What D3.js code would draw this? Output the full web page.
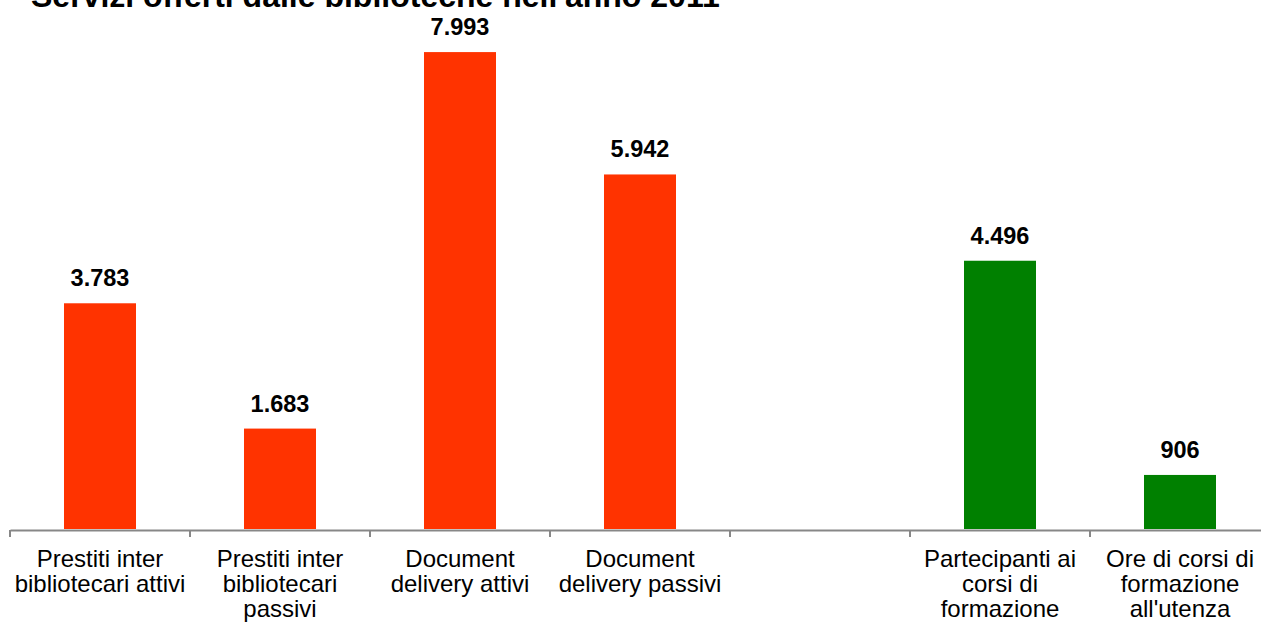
<!DOCTYPE html>
<html>
<head>
<meta charset="utf-8">
<script src="https://cdn.jsdelivr.net/npm/d3@7"></script>
<style>
  html, body { margin: 0; padding: 0; background: #fff; }
  svg { display: block; font-family: "Liberation Sans", Arial, sans-serif; }
</style>
</head>
<body>
<svg id="chart" width="1261" height="626"></svg>
<script>
const title = "Servizi offerti dalle biblioteche nell'anno 2011";
const categories = [
  "Prestiti inter bibliotecari attivi",
  "Prestiti inter bibliotecari passivi",
  "Document delivery attivi",
  "Document delivery passivi",
  " ",
  "Partecipanti ai corsi di formazione",
  "Ore di corsi di formazione all'utenza"
];
const values = [3783, 1683, 7993, 5942, null, 4496, 906];
const groups = ["prestito", "prestito", "prestito", "prestito", null, "formazione", "formazione"];
const groupColors = { prestito: "#FF3300", formazione: "#008000" };

const svg = d3.select("#chart");

const x = d3.scaleBand().domain(categories).range([10, 1270]).paddingInner(0).paddingOuter(0);
const y = d3.scaleLinear().domain([0, 9000]).range([529, -8]);

const it = d3.formatLocale({ decimal: ",", thousands: ".", grouping: [3], currency: ["€", ""] });
const fmt = it.format(",d");

// Title (partly clipped at top, as in the reference)
svg.append("text")
  .attr("x", 31).attr("y", 7)
  .attr("font-size", 32).attr("font-weight", "bold").attr("fill", "#000")
  .text(title);

// Bars
const barW = x.bandwidth() * 0.4;
const data = categories.map((c, i) => ({ c, v: values[i], g: groups[i] })).filter(d => d.v != null);

svg.append("g").selectAll("rect").data(data).join("rect")
  .attr("x", d => x(d.c) + (x.bandwidth() - barW) / 2)
  .attr("width", barW)
  .attr("y", d => y(d.v))
  .attr("height", d => y(0) - y(d.v))
  .attr("fill", d => groupColors[d.g]);

// Value labels
svg.append("g").selectAll("text").data(data).join("text")
  .attr("x", d => x(d.c) + x.bandwidth() / 2)
  .attr("y", d => y(d.v) - 17)
  .attr("text-anchor", "middle")
  .attr("font-size", 23.5).attr("font-weight", "bold").attr("fill", "#000")
  .text(d => fmt(d.v));

// Axis
const axis = d3.axisBottom(x).tickSize(7).tickSizeOuter(0).tickFormat("");
const gx = svg.append("g").attr("transform", `translate(0,${y(0) + 1})`).call(axis);
gx.select(".domain").attr("stroke", "#878787").attr("stroke-width", 2);
gx.selectAll(".tick").remove();
const bounds = categories.map(c => x(c)).concat([x.range()[1]]);
gx.selectAll("line.bt").data(bounds).join("line")
  .attr("class", "bt")
  .attr("x1", d => d).attr("x2", d => d)
  .attr("y1", 0).attr("y2", 7)
  .attr("stroke", "#878787").attr("stroke-width", 2);

// Category labels (wrapped)
const maxW = 178;
const lab = svg.append("g");
categories.forEach(c => {
  if (!c.trim()) return;
  const t = lab.append("text")
    .attr("text-anchor", "middle")
    .attr("font-size", 24).attr("fill", "#000");
  const cx = x(c) + x.bandwidth() / 2;
  const words = c.split(" ");
  let lines = [], cur = [];
  const probe = t.append("tspan");
  words.forEach(w => {
    const test = cur.concat([w]).join(" ");
    probe.text(test);
    if (probe.node().getComputedTextLength() > maxW && cur.length) {
      lines.push(cur.join(" "));
      cur = [w];
    } else cur.push(w);
  });
  lines.push(cur.join(" "));
  probe.remove();
  lines.forEach((ln, i) => {
    t.append("tspan").attr("x", cx).attr("y", 567 + i * 25).text(ln);
  });
});
</script>
</body>
</html>
